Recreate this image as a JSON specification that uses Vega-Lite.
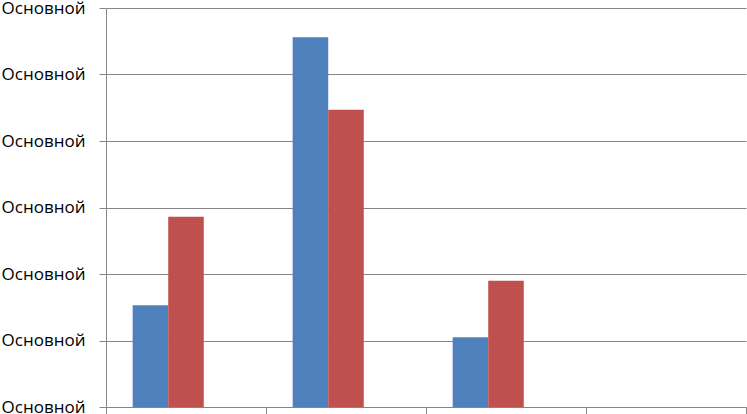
{
  "$schema": "https://vega.github.io/schema/vega-lite/v6.json",
  "width": 640,
  "height": 399,
  "autosize": {"type": "none"},
  "padding": {"left": 106, "top": 8, "right": 1, "bottom": 7},
  "background": "white",
  "config": {"view": {"stroke": null}},
  "data": {
    "values": [
      {"cat": "1", "series": "Ряд 1", "value": 1.53},
      {"cat": "1", "series": "Ряд 2", "value": 2.86},
      {"cat": "2", "series": "Ряд 1", "value": 5.56},
      {"cat": "2", "series": "Ряд 2", "value": 4.47},
      {"cat": "3", "series": "Ряд 1", "value": 1.05},
      {"cat": "3", "series": "Ряд 2", "value": 1.9}
    ]
  },
  "resolve": {"axis": {"x": "independent"}},
  "layer": [
    {
      "mark": {"type": "bar"},
      "encoding": {
        "x": {
          "field": "cat",
          "type": "nominal",
          "scale": {"domain": ["1", "2", "3", "4"], "paddingInner": 0, "paddingOuter": 0},
          "axis": {
            "orient": "bottom",
            "bandPosition": 0,
            "labels": false,
            "title": null,
            "ticks": true,
            "tickSize": 7,
            "tickColor": "#868686",
            "domainColor": "#868686",
            "grid": false
          }
        },
        "xOffset": {
          "field": "series",
          "type": "nominal",
          "scale": {"domain": ["Ряд 1", "Ряд 2", "Ряд 3"], "paddingInner": 0, "paddingOuter": 0.75}
        },
        "y": {
          "field": "value",
          "type": "quantitative",
          "scale": {"domain": [0, 6], "nice": false},
          "axis": {
            "values": [0, 1, 2, 3, 4, 5, 6],
            "labelExpr": "'Основной'",
            "title": null,
            "grid": true,
            "gridColor": "#868686",
            "gridOpacity": 1,
            "domainColor": "#868686",
            "tickColor": "#868686",
            "tickSize": 7,
            "labelPadding": 14,
            "labelFont": "Open Sans",
            "labelFontSize": 17,
            "labelColor": "#000000"
          }
        },
        "color": {
          "field": "series",
          "type": "nominal",
          "scale": {"domain": ["Ряд 1", "Ряд 2", "Ряд 3"], "range": ["#4F81BD", "#C0504D", "#9BBB59"]},
          "legend": null
        }
      }
    },
    {
      "mark": {"type": "bar", "opacity": 0},
      "encoding": {
        "x": {
          "field": "cat",
          "type": "nominal",
          "axis": {
            "orient": "bottom",
            "values": ["4"],
            "bandPosition": 1,
            "labels": false,
            "title": null,
            "ticks": true,
            "tickSize": 7,
            "tickColor": "#868686",
            "domain": false,
            "grid": false
          }
        }
      }
    }
  ]
}
